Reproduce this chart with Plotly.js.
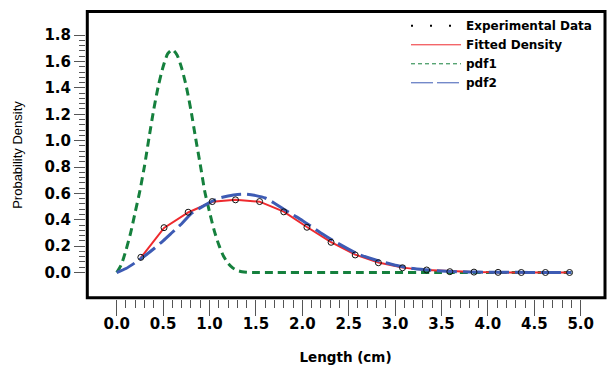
<!DOCTYPE html>
<html>
<head>
<meta charset="utf-8">
<script src="https://cdn.plot.ly/plotly-3.0.1.min.js"></script>
<style>html,body{margin:0;padding:0;background:#fff;}#chart{width:607px;height:369px;}</style>
</head>
<body>
<div id="chart"></div>
<script>
// Experimental data (open circles)
const expX = [0.26,0.51,0.77,1.03,1.28,1.54,1.80,2.05,2.31,2.57,2.82,3.08,3.34,3.59,3.85,4.11,4.36,4.62,4.88];
const expY = [0.115,0.340,0.457,0.538,0.551,0.538,0.460,0.343,0.229,0.133,0.074,0.036,0.019,0.006,0.003,0.001,0.000,0.000,0.000];
// Fitted density (red)
const fitX = [0.26,0.51,0.77,1.03,1.28,1.54,1.80,2.05,2.31,2.57,2.82,3.08,3.34,3.59,3.85,4.11,4.36,4.62,4.88];
const fitY = [0.112,0.338,0.455,0.536,0.552,0.537,0.462,0.345,0.231,0.135,0.075,0.037,0.018,0.008,0.003,0.001,0.000,0.000,0.000];
// pdf1 (green dashed)
const pdf1X = [0,0.05,0.1,0.15,0.2,0.25,0.3,0.35,0.4,0.45,0.5,0.55,0.6,0.65,0.7,0.75,0.8,0.85,0.9,0.95,1.0,1.05,1.1,1.15,1.2,1.25,1.3,1.35,1.4,1.5,2.5,3.5,4.9];
const pdf1Y = [0,0.06,0.17,0.30,0.46,0.62,0.81,1.03,1.24,1.42,1.56,1.66,1.69,1.65,1.55,1.41,1.23,1.02,0.82,0.61,0.46,0.32,0.21,0.125,0.07,0.035,0.015,0.006,0.002,0,0,0,0];
// pdf2 (blue long dash)
const pdf2X = [0,0.1,0.2,0.3,0.4,0.5,0.6,0.7,0.8,0.9,1.0,1.1,1.2,1.3,1.4,1.5,1.6,1.7,1.8,1.9,2.0,2.2,2.4,2.6,2.8,3.0,3.2,3.4,3.6,3.8,4.0,4.3,4.6,4.9];
const pdf2Y = [0,0.03,0.075,0.125,0.18,0.24,0.305,0.37,0.445,0.49,0.53,0.563,0.58,0.592,0.594,0.583,0.565,0.525,0.48,0.437,0.395,0.30,0.215,0.14,0.093,0.055,0.03,0.016,0.008,0.004,0.002,0.001,0,0];

const xTickVals = [0,0.5,1,1.5,2,2.5,3,3.5,4,4.5,5];
const xTickText = ['0.0','0.5','1.0','1.5','2.0','2.5','3.0','3.5','4.0','4.5','5.0'];
const yTickVals = [0,0.2,0.4,0.6,0.8,1.0,1.2,1.4,1.6,1.8];
const yTickText = ['0.0','0.2','0.4','0.6','0.8','1.0','1.2','1.4','1.6','1.8'];
const seriesNames = ['Experimental Data','Fitted Density','pdf1','pdf2'];

const xMinor = [];
for (let k = 0; k <= 50; k++) { if (k % 5 !== 0) xMinor.push(k / 10); }
const yMinor = [];
for (let k = 0; k <= 45; k++) { if (k % 5 !== 0) yMinor.push(k * 4 / 100); }

const RED = '#ee2a2e', GREEN = '#15803d', BLUE = '#3d5bb4';
const tickFont = {family: 'DejaVu Sans', size: 15, weight: 'bold', color: '#000'};

const traces = [
  {x: pdf1X, y: pdf1Y, mode: 'lines', name: seriesNames[2], legendgroup: 'p1', showlegend: false,
   line: {color: GREEN, width: 3, dash: '8px,5px', shape: 'spline', smoothing: 0.6}},
  {x: fitX, y: fitY, mode: 'lines', name: seriesNames[1], legendgroup: 'fit', showlegend: false,
   line: {color: RED, width: 2}},
  {x: pdf2X, y: pdf2Y, mode: 'lines', name: seriesNames[3], legendgroup: 'p2', showlegend: false,
   line: {color: BLUE, width: 3, dash: '20px,6px', shape: 'spline', smoothing: 0.6}},
  {x: expX, y: expY, mode: 'markers', name: seriesNames[0], showlegend: false, legendgroup: 'exp',
   cliponaxis: false,
   marker: {symbol: 'circle-open', size: 6, color: '#111', line: {width: 1}}},
  // legend entries (thin symbols as in the reference legend)
  {x: [null], y: [null], mode: 'lines', name: seriesNames[0], legendgroup: 'exp', legendrank: 1,
   line: {color: '#000', width: 2, dash: '2px,17px'}},
  {x: [null], y: [null], mode: 'lines', name: seriesNames[1], legendgroup: 'fit', legendrank: 2,
   line: {color: RED, width: 1}},
  {x: [null], y: [null], mode: 'lines', name: seriesNames[2], legendgroup: 'p1', legendrank: 3,
   line: {color: GREEN, width: 1, dash: '4px,3px'}},
  {x: [null], y: [null], mode: 'lines', name: seriesNames[3], legendgroup: 'p2', legendrank: 4,
   line: {color: BLUE, width: 1, dash: '22px,4px'}}
];

const layout = {
  width: 607, height: 369,
  margin: {l: 86, r: 2, t: 11, b: 70, pad: 0},
  paper_bgcolor: '#fff', plot_bgcolor: '#fff',
  showlegend: true,
  legend: {x: 0.6166, y: 0.999, xanchor: 'left', yanchor: 'top', bgcolor: 'rgba(0,0,0,0)',
           itemwidth: 50, traceorder: 'normal', tracegroupgap: 0,
           font: {family: 'DejaVu Sans', size: 12, weight: 'bold', color: '#000'}},
  xaxis: {
    range: [-0.331, 5.262], showgrid: false, zeroline: false, showline: false,
    tickmode: 'array', tickvals: xTickVals, ticktext: xTickText,
    ticks: 'outside', ticklen: 16, tickwidth: 1, tickcolor: '#555',
    ticklabelstandoff: -5,
    tickfont: tickFont,
    minor: {tickmode: 'array', tickvals: xMinor, ticks: 'outside', ticklen: 8, tickwidth: 1, tickcolor: '#555', showgrid: false},
    title: {text: 'Length (cm)', standoff: 20, font: {family: 'DejaVu Sans', size: 13.5, weight: 'bold', color: '#000'}}
  },
  yaxis: {
    range: [-0.201, 1.983], showgrid: false, zeroline: false, showline: false,
    tickmode: 'array', tickvals: yTickVals, ticktext: yTickText,
    ticks: 'outside', ticklen: 11, tickwidth: 1, tickcolor: '#555',
    tickfont: tickFont,
    minor: {tickmode: 'array', tickvals: yMinor, ticks: 'outside', ticklen: 6, tickwidth: 1, tickcolor: '#555', showgrid: false},
    title: {text: 'Probability Density', standoff: 18, font: {family: 'Liberation Sans', size: 13, color: '#000'}}
  },
  shapes: [
    {type: 'rect', xref: 'paper', yref: 'paper', x0: 0.0025, x1: 1.0, y0: 0.004, y1: 0.998,
     line: {color: '#000', width: 3}, fillcolor: 'rgba(0,0,0,0)', layer: 'above'}
  ]
};

Plotly.newPlot('chart', traces, layout, {displayModeBar: false, staticPlot: true});
</script>
</body>
</html>
